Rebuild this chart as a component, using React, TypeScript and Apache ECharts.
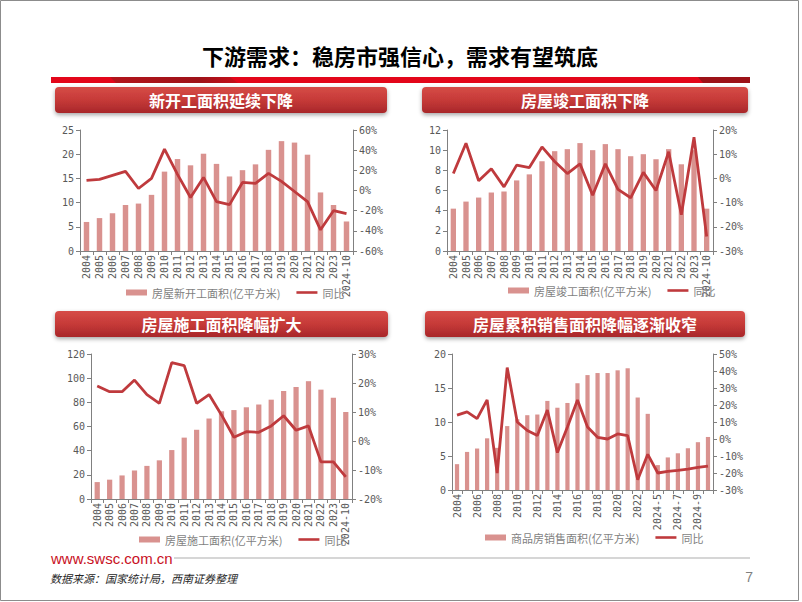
import React, { useEffect, useRef } from "react";
import * as echarts from "echarts";

const years = ["2004","2005","2006","2007","2008","2009","2010","2011","2012","2013","2014","2015","2016","2017","2018","2019","2020","2021","2022","2023","2024-10"];
const salesCats = ["2004","2005","2006","2007","2008","2009","2010","2011","2012","2013","2014","2015","2016","2017","2018","2019","2020","2021","2022","2023","2024-5","2024-6","2024-7","2024-8","2024-9","2024-10"];

const newStartArea = [6.0,6.8,7.8,9.5,9.8,11.6,16.4,19.0,17.7,20.1,18.0,15.4,16.7,17.9,20.9,22.7,22.4,19.9,12.1,9.5,6.1];
const newStartYoY = [10,11,15,19,2,12,41,16,-7,13,-11,-14,8,7,17,9,-1,-11,-39,-20,-23];

const completedArea = [4.2,4.9,5.3,5.8,5.9,7.0,7.6,8.9,9.9,10.1,10.7,10.0,10.6,10.1,9.4,9.6,9.1,10.1,8.6,10.0,4.2];
const completedYoY = [2,14.5,-1,4,-3.5,5.5,4.5,13,7,2,6,-7,6,-4.5,-8,2.5,-5,11,-15,17,-24];

const constructionArea = [14,16,19.5,23.6,27.4,32,40.5,50.8,57.3,66.6,72.6,73.6,75.9,78.2,82.2,89.4,92.7,97.5,90.5,83.8,72];
const constructionYoY = [19,17,17,21,16,13,27,26,13,16,9,1.3,3.2,3,5.2,8.7,3.7,5.2,-7.2,-7.2,-12.4];

const salesArea = [3.8,5.6,6.1,7.6,6.2,9.4,10.4,11.0,11.1,13.1,12.1,12.8,15.7,16.9,17.2,17.2,17.6,17.9,13.6,11.2,3.66,4.79,5.4,6.14,7.03,7.8];
const salesYoY = [14,16,12,23,-20,42,10,5,2,17,-8,7,23,7,1,0,3,2,-24,-9,-20,-19,-18.5,-17.7,-16.7,-15.9];

const barNames = ["房屋新开工面积(亿平方米)","房屋竣工面积(亿平方米)","房屋施工面积(亿平方米)","商品房销售面积(亿平方米)"];
const headerTitles = ["新开工面积延续下降","房屋竣工面积下降","房屋施工面积降幅扩大","房屋累积销售面积降幅逐渐收窄"];

const BAR = "#d9928f";
const LINE = "#bf3a3d";
const AXIS = "#808080";
const LABEL = "#595959";
const MONO = "DejaVu Sans Mono";
const CJK = "Noto Sans CJK SC";
const LINE_ICON = "path://M0,0 M0,1.7 L21,1.7 L21,4.3 L0,4.3 Z M21,6";

export default function App() {
  const ref = useRef<HTMLDivElement>(null);
  useEffect(() => {
    if (!ref.current) return;
    const chart = echarts.init(ref.current, null, { renderer: "svg" });

    const grids = [
      { left: 80, top: 130, width: 273, height: 121 },
      { left: 447, top: 130, width: 266, height: 121 },
      { left: 91, top: 354, width: 261, height: 145 },
      { left: 452, top: 354, width: 261, height: 136 },
    ];
    const leftAxes = [
      { min: 0, max: 25, interval: 5 },
      { min: 0, max: 12, interval: 2 },
      { min: 0, max: 120, interval: 20 },
      { min: 0, max: 20, interval: 5 },
    ];
    const rightAxes = [
      { min: -60, max: 60, interval: 20 },
      { min: -30, max: 20, interval: 10 },
      { min: -20, max: 30, interval: 10 },
      { min: -30, max: 50, interval: 10 },
    ];
    const cats = [years, years, years, salesCats];
    const bars = [newStartArea, completedArea, constructionArea, salesArea];
    const lines = [newStartYoY, completedYoY, constructionYoY, salesYoY];
    const legendPos = [
      { left: 121, top: 282 },
      { left: 503, top: 280 },
      { left: 134, top: 529 },
      { left: 480, top: 527 },
    ];

    const axisLine = { show: true, lineStyle: { color: AXIS, width: 1 } };
    const axisTick = { show: true, length: 4, lineStyle: { color: AXIS } };
    const labelStyle = { color: LABEL, fontFamily: MONO, fontSize: 10 };

    const xAxis: any[] = [];
    const yAxis: any[] = [];
    const series: any[] = [];
    const legend: any[] = [];

    for (let i = 0; i < 4; i++) {
      xAxis.push({
        type: "category",
        gridIndex: i,
        data: cats[i],
        axisLine,
        axisTick: { ...axisTick, alignWithLabel: false, interval: 0 },
        axisLabel: { ...labelStyle, rotate: 90, margin: 4, interval: i === 3 ? 1 : 0 },
        splitLine: { show: false },
      });
      yAxis.push({
        type: "value",
        gridIndex: i,
        position: "left",
        ...leftAxes[i],
        axisLine,
        axisTick,
        axisLabel: { ...labelStyle, margin: 6 },
        splitLine: { show: false },
      });
      yAxis.push({
        type: "value",
        gridIndex: i,
        position: "right",
        ...rightAxes[i],
        axisLine,
        axisTick,
        axisLabel: { ...labelStyle, margin: 6, formatter: "{value}%" },
        splitLine: { show: false },
      });
      series.push({
        type: "bar",
        name: barNames[i],
        xAxisIndex: i,
        yAxisIndex: i * 2,
        data: bars[i],
        barWidth: "42%",
        itemStyle: { color: BAR },
      });
      series.push({
        type: "line",
        name: "同比",
        xAxisIndex: i,
        yAxisIndex: i * 2 + 1,
        data: lines[i],
        symbol: "none",
        lineStyle: { color: LINE, width: 2.8 },
        itemStyle: { color: LINE },
      });
      legend.push({
        ...legendPos[i],
        orient: "horizontal",
        itemWidth: 21,
        itemHeight: 6,
        itemGap: 16,
        textStyle: { color: "#7f7f7f", fontFamily: CJK, fontSize: 11 },
        data: [
          { name: barNames[i], icon: "rect" },
          { name: "同比", icon: LINE_ICON, itemStyle: { color: LINE } },
        ],
        selectedMode: false,
      });
    }

    const headerBoxes = [
      { x: 55, y: 87, w: 332, h: 26 },
      { x: 422, y: 87, w: 326, h: 26 },
      { x: 55, y: 311, w: 333, h: 26 },
      { x: 425, y: 311, w: 320, h: 26 },
    ];
    const graphic: any[] = [
      {
        type: "rect",
        shape: { x: 0.5, y: 0.5, width: 798, height: 600 },
        style: { fill: "none", stroke: "#8c8c8c", lineWidth: 1 },
        silent: true,
      },
      {
        type: "text",
        x: 400,
        y: 55,
        style: {
          text: "下游需求：稳房市强信心，需求有望筑底",
          fill: "#000",
          font: `bold 22px "${CJK}"`,
          textAlign: "center",
          textVerticalAlign: "middle",
        },
      },
      { type: "rect", shape: { x: 51, y: 77, width: 699, height: 6 }, style: { fill: "#e3061a" } },
      {
        type: "polygon",
        shape: { points: [[110, 77], [230, 77], [238, 83], [116, 83]] },
        style: {
          fill: new echarts.graphic.LinearGradient(0, 0, 1, 0, [
            { offset: 0, color: "#b3141b" },
            { offset: 0.7, color: "#9e1218" },
            { offset: 1, color: "#c70e1a" },
          ]),
        },
      },
      {
        type: "polygon",
        shape: { points: [[698, 77], [750, 77], [750, 83], [703, 83]] },
        style: { fill: "#9c1117" },
      },
      {
        type: "line",
        shape: { x1: 174, y1: 558, x2: 750, y2: 558 },
        style: { stroke: "#c8c8c8", lineWidth: 1.5 },
      },
      {
        type: "text",
        x: 51,
        y: 558,
        style: {
          text: "www.swsc.com.cn",
          fill: "#c8101e",
          font: `15px "Liberation Sans Narrow", "Liberation Sans"`,
          textVerticalAlign: "middle",
        },
      },
      {
        type: "text",
        x: 50,
        y: 578,
        style: {
          text: "数据来源：国家统计局，西南证券整理",
          fill: "#262626",
          font: `italic 11px "${CJK}"`,
          textVerticalAlign: "middle",
        },
      },
      {
        type: "text",
        x: 753,
        y: 577,
        style: {
          text: "7",
          fill: "#7f7f7f",
          font: `14px "Liberation Sans"`,
          textAlign: "right",
          textVerticalAlign: "middle",
        },
      },
    ];
    headerBoxes.forEach((b, i) => {
      graphic.push({
        type: "rect",
        shape: { x: b.x, y: b.y, width: b.w, height: b.h, r: 4 },
        style: {
          fill: new echarts.graphic.LinearGradient(0, 0, 0, 1, [
            { offset: 0, color: "#d64c47" },
            { offset: 0.5, color: "#c63a38" },
            { offset: 1, color: "#a8272a" },
          ]),
          shadowColor: "rgba(0,0,0,0.35)",
          shadowBlur: 4,
          shadowOffsetY: 2,
        },
      });
      graphic.push({
        type: "text",
        x: b.x + b.w / 2,
        y: b.y + b.h / 2,
        style: {
          text: headerTitles[i],
          fill: "#ffffff",
          font: `bold 16px "${CJK}"`,
          textAlign: "center",
          textVerticalAlign: "middle",
        },
      });
    });

    chart.setOption({
      animation: false,
      backgroundColor: "#ffffff",
      grid: grids,
      xAxis,
      yAxis,
      series,
      legend,
      graphic,
    });
    return () => chart.dispose();
  }, []);
  return (
    <div
      ref={ref}
      style={{ position: "absolute", left: 0, top: 0, width: 802, height: 602 }}
    />
  );
}
